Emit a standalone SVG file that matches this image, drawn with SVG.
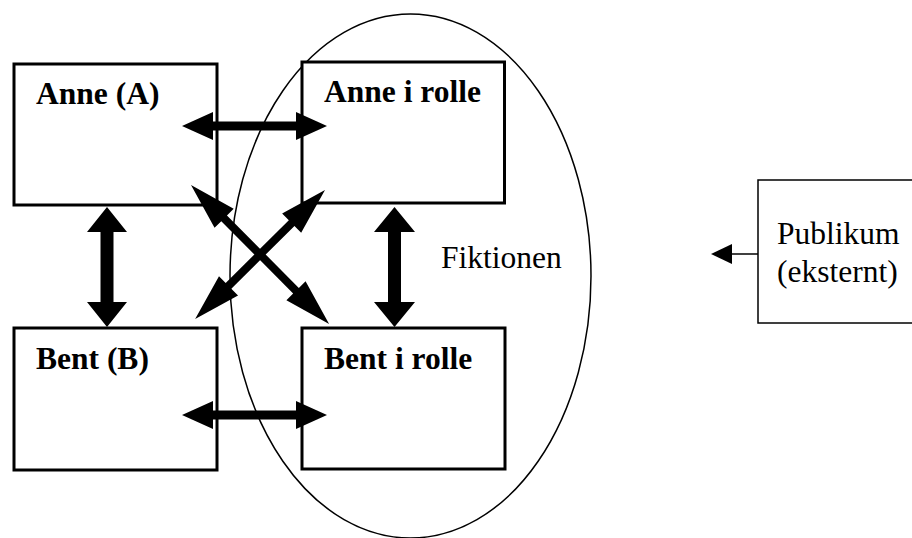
<svg xmlns="http://www.w3.org/2000/svg" width="912" height="538" viewBox="0 0 912 538">
<style>
.box{fill:#fff;stroke:#000;stroke-width:3}
.pbox{fill:#fff;stroke:#000;stroke-width:1.5}
.b{font-family:"Liberation Serif","Times New Roman",serif;font-weight:bold;font-size:31.5px;fill:#000}
.r{font-family:"Liberation Serif","Times New Roman",serif;font-size:31.5px;fill:#000}
.arr{fill:#000;stroke:none}
</style>
<rect width="912" height="538" fill="#fff"/>
<g id="fiktionen">
<ellipse cx="410.5" cy="276" rx="180.5" ry="262" fill="none" stroke="#000" stroke-width="1.5"/>
<text class="r" x="441" y="268">Fiktionen</text>
</g>
<g id="anne">
<rect class="box" x="14" y="64" width="203" height="141"/>
<text class="b" x="36" y="104">Anne (A)</text>
</g>
<g id="anne-rolle">
<rect class="box" x="302" y="62" width="202.5" height="141"/>
<text class="b" x="324" y="102">Anne i rolle</text>
</g>
<g id="bent">
<rect class="box" x="14" y="328" width="203" height="142"/>
<text class="b" x="36" y="369">Bent (B)</text>
</g>
<g id="bent-rolle">
<rect class="box" x="302" y="328" width="203" height="141"/>
<text class="b" x="324" y="369">Bent i rolle</text>
</g>
<g id="publikum">
<rect class="pbox" x="758" y="180" width="170" height="143"/>
<text class="r" x="777" y="244">Publikum</text>
<text class="r" x="777" y="282">(eksternt)</text>
</g>
<g id="connectors">
<polygon class="arr" points="182,126 213,112 213,121.5 296,121.5 296,112 327,126 296,140 296,130.5 213,130.5 213,140"/>
<polygon class="arr" points="182,415 213,401 213,410.5 296,410.5 296,401 327,415 296,429 296,419.5 213,419.5 213,429"/>
<polygon class="arr" points="107,207 127,232 113.5,232 113.5,302 127,302 107,327 87,302 100.5,302 100.5,232 87,232"/>
<polygon class="arr" points="394.5,207 415,232 401,232 401,302 415,302 394.5,327 374,302 388,302 388,232 374,232"/>
<polygon class="arr" transform="translate(191,185) rotate(45.2)" points="0,0 47,-13.5 47,-4 149,-4 149,-13.5 196,0 149,13.5 149,4 47,4 47,13.5"/>
<polygon class="arr" transform="translate(325,190) rotate(135.2)" points="0,0 47,-13.5 47,-4 136,-4 136,-13.5 183,0 136,13.5 136,4 47,4 47,13.5"/>
<line x1="758" y1="254" x2="730" y2="254" stroke="#000" stroke-width="1.5"/>
<polygon class="arr" points="711,254 732,244 732,264"/>
</g>
</svg>
